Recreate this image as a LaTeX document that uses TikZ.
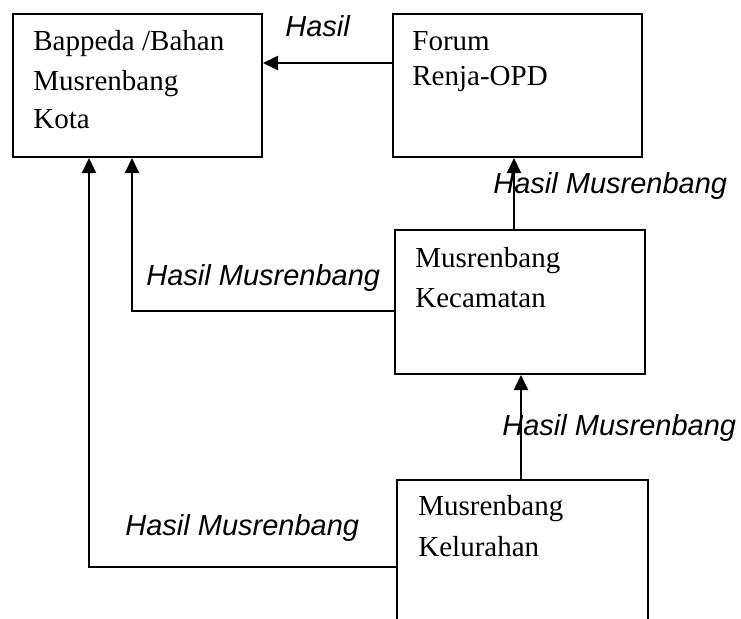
\documentclass[tikz,border=0pt]{standalone}
\usepackage{fontspec}
\setmainfont{Liberation Serif}
\newfontfamily\labelfont{Liberation Sans}
\usetikzlibrary{arrows.meta}
\begin{document}
\begin{tikzpicture}[x=0.5pt,y=-0.5pt,
  boxnode/.style={draw,line width=1pt,rectangle,inner sep=0pt,anchor=north west},
  boxtext/.style={inner sep=0pt,anchor=base west,font=\fontsize{14.5}{17}\selectfont},
  conlabel/.style={inner sep=0pt,anchor=base west,font=\labelfont\itshape\fontsize{14.5}{17}\selectfont},
  conn/.style={line width=1pt,-{Triangle[length=7.5pt,width=7pt]}}]
\clip (0,0) rectangle (741,618);
\fill[white] (0,0) rectangle (741,618);
% boxes
\node[boxnode,minimum width=124.5pt,minimum height=71.5pt] (A) at (12,13) {};
\node[boxnode,minimum width=124.5pt,minimum height=71.5pt] (B) at (392,13) {};
\node[boxnode,minimum width=125pt,minimum height=72pt] (C) at (394,229) {};
\node[boxnode,minimum width=125.5pt,minimum height=90pt] (D) at (396,479) {};
% box texts
\node[boxtext] (a1) at (33,50) {Bappeda /Bahan};
\node[boxtext] (a2) at (33,90) {Musrenbang};
\node[boxtext] (a3) at (33,128) {Kota};
\node[boxtext] (b1) at (412,50) {Forum};
\node[boxtext] (b2) at (412,85) {Renja-OPD};
\node[boxtext] (c1) at (415,267) {Musrenbang};
\node[boxtext] (c2) at (415,307) {Kecamatan};
\node[boxtext] (d1) at (418,515) {Musrenbang};
\node[boxtext] (d2) at (418,556) {Kelurahan};
% connector waypoints
\coordinate (ca) at (132,311);
\coordinate (da) at (89,567);
% connectors
\draw[conn] (B.west |- 0,63) -- (A.east |- 0,63);
\draw[conn] (C.north -| 514,0) -- (B.south -| 514,0);
\draw[conn] (C.west |- ca) -- (ca) -- (A.south -| ca);
\draw[conn] (D.north -| 521,0) -- (C.south -| 521,0);
\draw[conn] (D.west |- da) -- (da) -- (A.south -| da);
% labels
\node[conlabel] (l1) at (285,36) {Hasil};
\node[conlabel] (l2) at (493,193) {Hasil Musrenbang};
\node[conlabel] (l3) at (146,285) {Hasil Musrenbang};
\node[conlabel] (l4) at (502,435) {Hasil Musrenbang};
\node[conlabel] (l5) at (125,535) {Hasil Musrenbang};
\end{tikzpicture}
\end{document}
